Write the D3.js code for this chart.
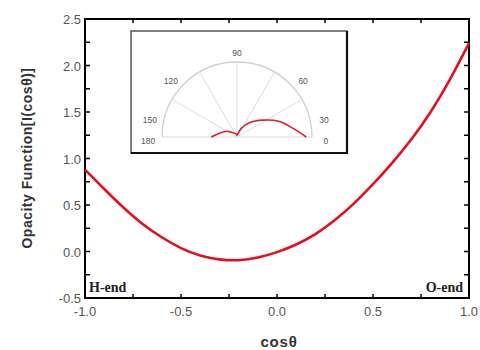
<!DOCTYPE html>
<html>
<head>
<meta charset="utf-8">
<script src="https://cdn.jsdelivr.net/npm/d3@7"></script>
<style>
  body { margin: 0; background: #fff; }
  svg { display: block; }
</style>
</head>
<body>
<script>
// opacity function
var cosTheta = [-1.0, -0.9, -0.8, -0.7, -0.6, -0.5, -0.4, -0.3, -0.2, -0.1, 0.0,
                0.1, 0.2, 0.3, 0.4, 0.5, 0.6, 0.7, 0.8, 0.9, 1.0];
var opacity = [0.88, 0.67, 0.47, 0.29, 0.15, 0.03, -0.05, -0.09, -0.10, -0.07, -0.01,
               0.07, 0.18, 0.33, 0.51, 0.72, 0.95, 1.20, 1.49, 1.84, 2.24];

// inset polar curve (angle in degrees, radius in function units)
var polarAngle = [0, 9, 20, 33, 49, 64, 80, 90, 110, 134, 150, 168, 180];
var polarR = [2.31, 1.88, 1.51, 1.03, 0.63, 0.32, 0.08, 0.06, 0.12, 0.20, 0.38, 0.60, 0.86];
var polarTicks = [0, 30, 60, 90, 120, 150, 180];

var xTicks = [-1.0, -0.5, 0.0, 0.5, 1.0];
var yTicks = [-0.5, 0.0, 0.5, 1.0, 1.5, 2.0, 2.5];

var width = 480, height = 350;
var margin = { top: 19, right: 11, bottom: 52, left: 85 };

var svg = d3.select("body").append("svg")
    .attr("width", width)
    .attr("height", height);

var x = d3.scaleLinear().domain([-1, 1]).range([margin.left, width - margin.right]);
var y = d3.scaleLinear().domain([-0.5, 2.5]).range([height - margin.bottom, margin.top]);

var tickFont = "Arial, 'Liberation Sans', sans-serif";

// minor ticks every 0.25
var xMinor = d3.range(-1, 1.001, 0.25);
var yMinor = d3.range(-0.5, 2.501, 0.25);

function inTicks(g, scale, vals, dir, len) {
    g.selectAll("line").data(vals).enter().append("line")
        .attr("stroke", "#000").attr("stroke-width", 1.5)
        .each(function (d) {
            var s = d3.select(this), p = scale(d);
            if (dir === "bottom") s.attr("x1", p).attr("x2", p).attr("y1", y(-0.5)).attr("y2", y(-0.5) - len);
            if (dir === "top") s.attr("x1", p).attr("x2", p).attr("y1", y(2.5)).attr("y2", y(2.5) + len);
            if (dir === "left") s.attr("y1", p).attr("y2", p).attr("x1", x(-1)).attr("x2", x(-1) + len);
            if (dir === "right") s.attr("y1", p).attr("y2", p).attr("x1", x(1)).attr("x2", x(1) - len);
        });
}

var ticks = svg.append("g");
inTicks(ticks.append("g"), x, xMinor, "bottom", 4);
inTicks(ticks.append("g"), x, xMinor, "top", 4);
inTicks(ticks.append("g"), y, yMinor, "left", 5);
inTicks(ticks.append("g"), y, yMinor, "right", 5);

// frame
svg.append("rect")
    .attr("x", x(-1)).attr("y", y(2.5))
    .attr("width", x(1) - x(-1)).attr("height", y(-0.5) - y(2.5))
    .attr("fill", "none").attr("stroke", "#000").attr("stroke-width", 2);

// tick labels
svg.append("g").selectAll("text").data(xTicks).enter().append("text")
    .attr("x", function (d) { return x(d); })
    .attr("y", y(-0.5) + 18)
    .attr("text-anchor", "middle")
    .attr("font-family", tickFont).attr("font-size", 13)
    .attr("fill", "#555")
    .text(function (d) { return d.toFixed(1); });

svg.append("g").selectAll("text").data(yTicks).enter().append("text")
    .attr("x", x(-1) - 4)
    .attr("y", function (d) { return y(d) + 5; })
    .attr("text-anchor", "end")
    .attr("font-family", tickFont).attr("font-size", 13)
    .attr("fill", "#555")
    .text(function (d) { return d.toFixed(1); });

// axis titles
svg.append("text")
    .attr("x", 279).attr("y", 347)
    .attr("text-anchor", "middle")
    .attr("font-family", tickFont).attr("font-size", 15).attr("font-weight", "bold")
    .attr("letter-spacing", 0.8)
    .attr("fill", "#333")
    .text("cosθ");

svg.append("text")
    .attr("transform", "translate(32,158) rotate(-90)")
    .attr("text-anchor", "middle")
    .attr("font-family", tickFont).attr("font-size", 14).attr("font-weight", "bold")
    .attr("letter-spacing", 0.5)
    .attr("fill", "#333")
    .text("Opacity Function[I(cosθ)]");

// end labels
svg.append("text")
    .attr("x", x(-1) + 4).attr("y", y(-0.5) - 6)
    .attr("font-family", "'Liberation Serif', 'Times New Roman', serif")
    .attr("font-size", 14).attr("font-weight", "bold").attr("fill", "#222")
    .text("H-end");

svg.append("text")
    .attr("x", x(1) - 6).attr("y", y(-0.5) - 6)
    .attr("text-anchor", "end")
    .attr("font-family", "'Liberation Serif', 'Times New Roman', serif")
    .attr("font-size", 14).attr("font-weight", "bold").attr("fill", "#222")
    .text("O-end");

// main curve
var line = d3.line()
    .x(function (d, i) { return x(cosTheta[i]); })
    .y(function (d) { return y(d); })
    .curve(d3.curveBasis);

svg.append("path")
    .datum(opacity)
    .attr("d", line)
    .attr("fill", "none")
    .attr("stroke", "#e01020")
    .attr("stroke-width", 2.6);

// ---- inset ----
var inset = { left: 131, top: 31, right: 347, bottom: 153 };
var cx = 237, cy = 137, R = 75;

svg.append("rect")
    .attr("x", inset.left).attr("y", inset.top)
    .attr("width", inset.right - inset.left).attr("height", inset.bottom - inset.top)
    .attr("fill", "#fff").attr("stroke", "#555").attr("stroke-width", 1.5);
svg.append("path")
    .attr("d", "M" + inset.right + "," + inset.top + "V" + inset.bottom + "H" + inset.left)
    .attr("fill", "none").attr("stroke", "#111").attr("stroke-width", 2.2);

var r = d3.scaleLinear().domain([0, 2.5]).range([0, R]);
var toRad = function (deg) { return Math.PI / 2 - deg * Math.PI / 180; };

var polar = svg.append("g").attr("transform", "translate(" + cx + "," + cy + ")");

polar.append("path")
    .attr("d", d3.arc()({ innerRadius: R, outerRadius: R, startAngle: -Math.PI / 2, endAngle: Math.PI / 2 }))
    .attr("fill", "none").attr("stroke", "#cfcfcf").attr("stroke-width", 1.3);

polar.selectAll("line.spoke").data(polarTicks).enter().append("line")
    .attr("class", "spoke")
    .attr("x1", 0).attr("y1", 0)
    .attr("x2", function (d) { return R * Math.cos(d * Math.PI / 180); })
    .attr("y2", function (d) { return -R * Math.sin(d * Math.PI / 180); })
    .attr("stroke", "#dcdcdc").attr("stroke-width", 1);

function labelAngle(d) {
    if (d === 0) return -3;
    if (d === 180) return 183;
    if (d === 90) return 90;
    return d < 90 ? d - 18 : d + 18;
}

polar.selectAll("text").data(polarTicks).enter().append("text")
    .attr("x", function (d) { return 89 * Math.cos(labelAngle(d) * Math.PI / 180); })
    .attr("y", function (d) { return -84 * Math.sin(labelAngle(d) * Math.PI / 180) + 3; })
    .attr("text-anchor", "middle")
    .attr("font-family", tickFont).attr("font-size", 8.5)
    .attr("fill", "#555")
    .text(function (d) { return d; });

var radial = d3.lineRadial()
    .angle(function (d, i) { return toRad(polarAngle[i]); })
    .radius(function (d) { return r(d); })
    .curve(d3.curveCatmullRom);

polar.append("path")
    .datum(polarR)
    .attr("d", radial)
    .attr("fill", "none")
    .attr("stroke", "#d8202a")
    .attr("stroke-width", 1.6);
</script>
</body>
</html>
